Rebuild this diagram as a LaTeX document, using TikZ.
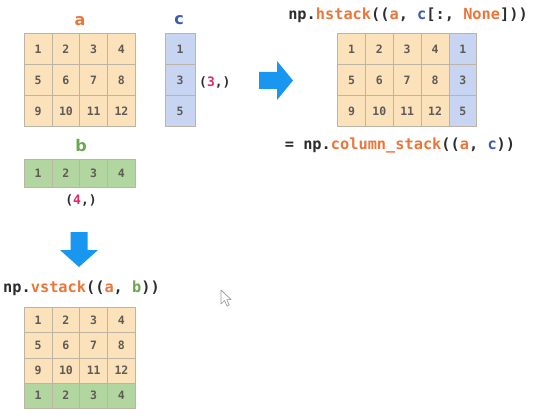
\documentclass[tikz,border=0pt]{standalone}
\usepackage{fontspec}
\setmainfont{DejaVu Sans}
\newfontfamily\codefont{DejaVu Sans Mono}
\newfontfamily\cellfont{DejaVu Sans Mono}
\definecolor{afill}{RGB}{252,226,186}
\definecolor{cfill}{RGB}{200,213,242}
\definecolor{bfill}{RGB}{178,214,160}
\definecolor{gridline}{RGB}{190,180,165}
\definecolor{numcol}{RGB}{95,90,85}
\definecolor{orng}{RGB}{234,118,58}
\definecolor{blu}{RGB}{62,92,170}
\definecolor{grn}{RGB}{106,168,80}
\definecolor{mag}{RGB}{226,40,110}
\definecolor{arrowblue}{RGB}{24,150,240}
\definecolor{codedark}{RGB}{45,45,45}
\begin{document}
\begin{tikzpicture}[x=1pt,y=-1pt,
  cell/.style={draw=gridline, line width=0.8pt, rectangle, inner sep=0pt,
    font=\cellfont\bfseries\fontsize{11.5}{12}\selectfont, text=numcol},
  acell/.style={cell, fill=afill},
  ccell/.style={cell, fill=cfill},
  bcell/.style={cell, fill=bfill},
  lbl/.style={font=\bfseries\fontsize{16}{17}\selectfont},
  code/.style={font=\codefont\bfseries\fontsize{15.3}{16}\selectfont, text=codedark, inner sep=0pt},
  shapetxt/.style={font=\codefont\bfseries\fontsize{13}{14}\selectfont, text=codedark, inner sep=0pt},
  bigarrow/.style={fill=arrowblue, draw=none}]
\fill[white] (0,0) rectangle (536,420);
\useasboundingbox (0,0) rectangle (536,420);

% matrix a
\foreach \r in {1,2,3} {
  \foreach \c in {1,2,3,4} {
    \pgfmathtruncatemacro{\v}{(\r-1)*4+\c}
    \node[acell, minimum width=27.75pt, minimum height=31.1pt]
      (a\r\c) at ({24.3+27.75*(\c-0.5)},{33.3+31.1*(\r-0.5)}) {\v};
  }
}
\node[lbl, text=orng] (alab) at (80,21) {a};

% vector c
\foreach \r/\v in {1/1,2/3,3/5} {
  \node[ccell, minimum width=30pt, minimum height=31.1pt]
    (c\r) at (180,{33.3+31.1*(\r-0.5)}) {\v};
}
\node[lbl, text=blu] (clab) at (179,20) {c};
\node[shapetxt, anchor=west] (cshape) at (199,82) {(\textcolor{mag}{3},)};

% vector b
\foreach \c in {1,2,3,4} {
  \node[bcell, minimum width=27.75pt, minimum height=28.4pt]
    (b\c) at ({24.3+27.75*(\c-0.5)},173.5) {\c};
}
\node[lbl, text=grn] (blab) at (81,146) {b};
\node[shapetxt] (bshape) at (81,200) {(\textcolor{mag}{4},)};

% right arrow
\path[bigarrow] (259,72) -- (277,72) -- (277,61) -- (293,80.5) -- (277,100) -- (277,89) -- (259,89) -- cycle;

% hstack result
\node[code] (hcode) at (408,15) {np.\textcolor{orng}{hstack}((\textcolor{orng}{a}, \textcolor{blu}{c}[:, \textcolor{orng}{None}]))};
\foreach \r in {1,2,3} {
  \foreach \c in {1,2,3,4} {
    \pgfmathtruncatemacro{\v}{(\r-1)*4+\c}
    \node[acell, minimum width=27.8pt, minimum height=31.1pt]
      (h\r\c) at ({337.7+27.8*(\c-0.5)},{33.3+31.1*(\r-0.5)}) {\v};
  }
}
\foreach \r/\v in {1/1,2/3,3/5} {
  \node[ccell, minimum width=27.8pt, minimum height=31.1pt]
    (h\r5) at ({337.7+27.8*4.5},{33.3+31.1*(\r-0.5)}) {\v};
}
\node[code] (ccode) at (400,145) {= np.\textcolor{orng}{column\_stack}((\textcolor{orng}{a}, \textcolor{blu}{c}))};

% down arrow
\path[bigarrow] (70.5,232) -- (87.5,232) -- (87.5,250) -- (98,250) -- (79,267) -- (60,250) -- (70.5,250) -- cycle;

% vstack result
\node[code, anchor=west] (vcode) at (3,288) {np.\textcolor{orng}{vstack}((\textcolor{orng}{a}, \textcolor{grn}{b}))};
\foreach \r in {1,2,3} {
  \foreach \c in {1,2,3,4} {
    \pgfmathtruncatemacro{\v}{(\r-1)*4+\c}
    \node[acell, minimum width=27.75pt, minimum height=25.1pt]
      (v\r\c) at ({24.3+27.75*(\c-0.5)},{307.7+25.1*(\r-0.5)}) {\v};
  }
}
\foreach \c in {1,2,3,4} {
  \node[bcell, minimum width=27.75pt, minimum height=25.1pt]
    (v4\c) at ({24.3+27.75*(\c-0.5)},{307.7+25.1*3.5}) {\c};
}

% mouse cursor
\path[fill=white, draw=gray!80, line width=0.7pt, line join=round]
  (221,290) -- (221,304) -- (224.5,300.5) -- (227,306) -- (229.2,305) -- (226.8,299.6) -- (231,299.6) -- cycle;
\end{tikzpicture}
\end{document}
